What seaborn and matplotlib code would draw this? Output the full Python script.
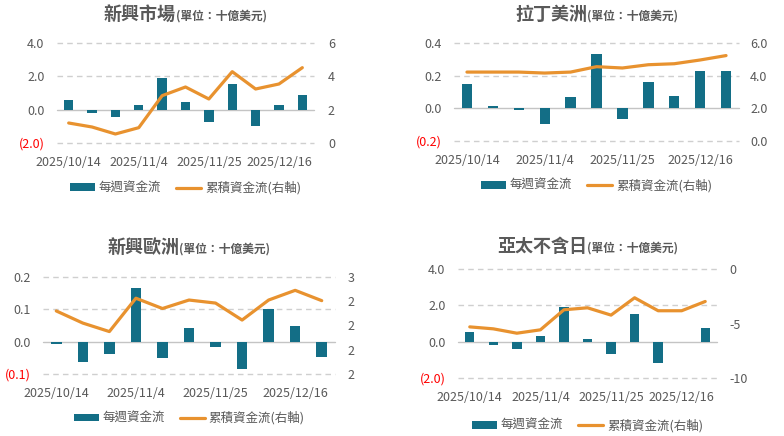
"""
Weekly and cumulative fund flows, four regions (2x2 panels)
"""

import pandas as pd
import numpy as np
import matplotlib
matplotlib.use('Agg')
import matplotlib.pyplot as plt
from matplotlib.patches import Patch
from matplotlib.lines import Line2D
from matplotlib.ticker import FuncFormatter
import seaborn as sns

sns.set_theme(style='white')
plt.rcParams['font.family'] = ['Noto Sans CJK TC', 'DejaVu Sans']

# ---- data ----
weeks = ['2025/10/14', '2025/10/21', '2025/10/28', '2025/11/4', '2025/11/11',
         '2025/11/18', '2025/11/25', '2025/12/2', '2025/12/9', '2025/12/16',
         '2025/12/23']
tick_weeks = ['2025/10/14', '2025/11/4', '2025/11/25', '2025/12/16']

em_weekly = [0.6, -0.22, -0.46, 0.3, 1.92, 0.48, -0.76, 1.56, -1.0, 0.3, 0.9]
em_cum = [1.2, 0.96, 0.54, 0.92, 2.84, 3.36, 2.64, 4.28, 3.24, 3.54, 4.52]

latam_weekly = [0.15, 0.014, -0.008, -0.094, 0.07, 0.334, -0.064, 0.162, 0.076, 0.23, 0.23]
latam_cum = [4.22, 4.22, 4.22, 4.16, 4.22, 4.55, 4.47, 4.67, 4.73, 4.96, 5.23]

emea_weekly = [-0.008, -0.063, -0.039, 0.165, -0.051, 0.043, -0.017, -0.085, 0.101, 0.049, -0.048]
emea_cum = [2.32, 2.22, 2.15, 2.425, 2.34, 2.41, 2.385, 2.245, 2.41, 2.49, 2.405]

apxj_weekly = [0.52, -0.2, -0.4, 0.3, 1.9, 0.13, -0.68, 1.51, -1.18, 0.0, 0.74]
apxj_cum = [-5.31, -5.49, -5.89, -5.58, -3.74, -3.56, -4.23, -2.64, -3.83, -3.83, -2.98]

BAR_COLOR = '#136E86'
LINE_COLOR = '#E8922F'
TEXT_COLOR = '#595959'
GRID_COLOR = '#CFCFCF'

W, H = 784, 436


def paren_fmt(v, decimals):
    s = f"{abs(v):.{decimals}f}"
    return f"({s})" if v < 0 else s


def draw_panel(fig, box, title_y, title, weekly, cum, lticks, ldec, rticks, rfmt, rpad):
    x0, x1, ytop, ybot = box
    ax = fig.add_axes([x0 / W, (H - ybot) / H, (x1 - x0) / W, (ybot - ytop) / H])
    df = pd.DataFrame({'week': weeks, 'weekly': weekly, 'cum': cum, 'idx': np.arange(len(weeks))})

    sns.barplot(data=df, x='week', y='weekly', order=weeks, color=BAR_COLOR,
                width=0.4, saturation=1, linewidth=0, ax=ax, zorder=2)
    ax.set_ylim(lticks[0], lticks[-1])
    ax.set_xlim(-0.5, len(weeks) - 0.5)
    ax.set_yticks(lticks, [paren_fmt(v, ldec) for v in lticks])
    ax.set_xticks([weeks.index(t) for t in tick_weeks], tick_weeks)
    for v in lticks:
        if v == 0:
            ax.axhline(0, color='#C4C4C4', lw=1.0, zorder=1, clip_on=False)
        else:
            ax.axhline(v, color=GRID_COLOR, lw=1.0, ls=(0, (4, 3)), zorder=1, clip_on=False)
    ax.set_xlabel('')
    ax.set_ylabel('')
    ax.tick_params(axis='both', length=0, labelsize=9, colors=TEXT_COLOR)
    ax.tick_params(axis='x', pad=9)
    ax.tick_params(axis='y', pad=9)
    for lbl, v in zip(ax.get_yticklabels(), lticks):
        lbl.set_color('#FF0000' if v < 0 else TEXT_COLOR)
    for s in ax.spines.values():
        s.set_visible(False)

    ax2 = ax.twinx()
    sns.lineplot(data=df, x='idx', y='cum', color=LINE_COLOR, lw=2.3, ax=ax2)
    ax2.set_ylim(rticks[0], rticks[-1])
    ax2.set_yticks(rticks)
    ax2.yaxis.set_major_formatter(FuncFormatter(rfmt))
    ax2.set_ylabel('')
    ax2.tick_params(axis='y', length=0, labelsize=9, colors=TEXT_COLOR, pad=rpad)
    for s in ax2.spines.values():
        s.set_visible(False)
    ax.set_xlim(-0.5, len(weeks) - 0.5)

    # title: big region name + small unit text, centred together over the axes
    cx = (x0 + x1) / 2 / W
    ty = (H - title_y) / H
    t1 = fig.text(0, ty, title, fontsize=13, fontweight='bold', color=TEXT_COLOR, va='baseline')
    t2 = fig.text(0, ty, '(單位：十億美元)', fontsize=8.5, fontweight='bold', color=TEXT_COLOR, va='baseline')
    fig.canvas.draw()
    r = fig.canvas.get_renderer()
    w1 = t1.get_window_extent(r).width / W
    w2 = t2.get_window_extent(r).width / W
    start = cx - (w1 + w2) / 2
    t1.set_x(start)
    t2.set_x(start + w1)

    handles = [Patch(facecolor=BAR_COLOR, edgecolor='none'),
               Line2D([0], [0], color=LINE_COLOR, lw=2.3)]
    leg = ax.legend(handles, ['每週資金流', '累積資金流(右軸)'], loc='upper center',
                    bbox_to_anchor=(0.5, -0.27), ncol=2, frameon=False, fontsize=9,
                    handlelength=2.0, handleheight=0.6, columnspacing=1.2, handletextpad=0.3)
    for t in leg.get_texts():
        t.set_color(TEXT_COLOR)
    return ax


fig = plt.figure(figsize=(W / 100, H / 100), dpi=100)

draw_panel(fig, (57, 314, 43, 143), 20, '新興市場', em_weekly, em_cum,
           [-2, 0, 2, 4], 1, [0, 2, 4, 6], lambda v, p: f"{v:.0f}", 10)
draw_panel(fig, (454, 739, 43, 141), 20, '拉丁美洲', latam_weekly, latam_cum,
           [-0.2, 0, 0.2, 0.4], 1, [0, 2, 4, 6], lambda v, p: f"{v:.1f}", 8)
draw_panel(fig, (43, 335, 277, 374), 253, '新興歐洲', emea_weekly, emea_cum,
           [-0.1, 0, 0.1, 0.2], 1, [1.8, 2.0, 2.2, 2.4, 2.6], lambda v, p: f"{v:.0f}", 9)
draw_panel(fig, (458, 717, 269, 378), 252, '亞太不含日', apxj_weekly, apxj_cum,
           [-2, 0, 2, 4], 1, [-10, -5, 0], lambda v, p: f"{v:.0f}", 9)

fig.savefig('out.png', dpi=100)
